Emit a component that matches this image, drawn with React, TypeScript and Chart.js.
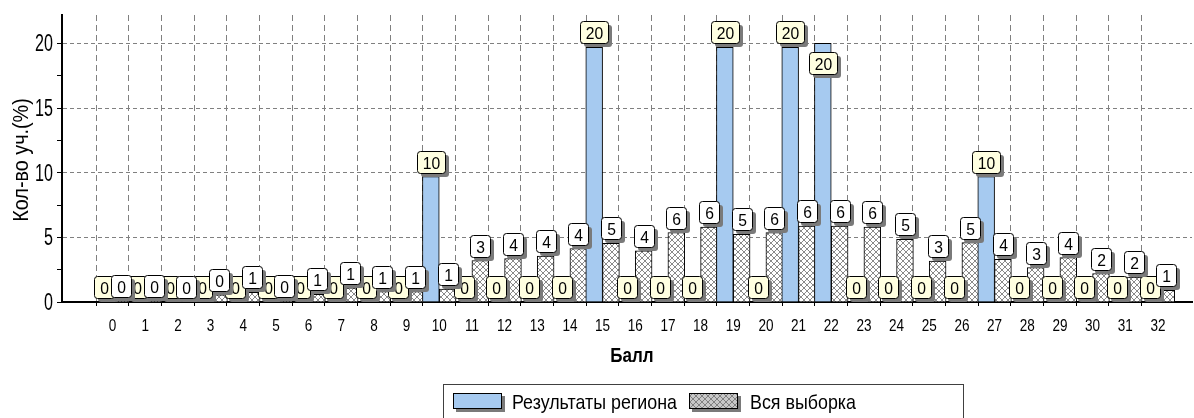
import React, { useEffect, useRef } from 'react';
import { Chart, registerables } from 'chart.js';
Chart.register(...registerables);

const scores = [0, 1, 2, 3, 4, 5, 6, 7, 8, 9, 10, 11, 12, 13, 14, 15, 16, 17, 18, 19, 20, 21, 22, 23, 24, 25, 26, 27, 28, 29, 30, 31, 32];
const regionPct = [0, 0, 0, 0, 0, 0, 0, 0, 0, 0, 9.7, 0, 0, 0, 0, 19.7, 0, 0, 0, 19.7, 0, 19.7, 20, 0, 0, 0, 0, 9.7, 0, 0, 0, 0, 0];
const samplePct = [0.05, 0.05, 0, 0.55, 0.75, 0.1, 0.6, 1.1, 0.8, 0.8, 1.0, 3.2, 3.36, 3.56, 4.13, 4.54, 3.95, 5.37, 5.79, 5.24, 5.37, 5.88, 5.88, 5.8, 4.85, 3.17, 4.59, 3.3, 2.66, 3.43, 2.19, 1.93, 0.9];
const regionMarks = [0, 0, 0, 0, 0, 0, 0, 0, 0, 0, 10, 0, 0, 0, 0, 20, 0, 0, 0, 20, 0, 20, 20, 0, 0, 0, 0, 10, 0, 0, 0, 0, 0];
const sampleMarks = [0, 0, 0, 0, 1, 0, 1, 1, 1, 1, 1, 3, 4, 4, 4, 5, 4, 6, 6, 5, 6, 6, 6, 6, 5, 3, 5, 4, 3, 4, 2, 2, 1];
const yTicks = [0, 5, 10, 15, 20];
const seriesNames = ['Результаты региона', 'Вся выборка'];
const xTitle = 'Балл';
const yTitle = 'Кол-во уч.(%)';

const BLUE = '#A6CAF0';
const BEIGE = '#FFFFE1';
const SHADOW = '#7a7a7a';
const FONT = '"Liberation Sans", Arial, sans-serif';

function makeHatch(bg: string, line: string) {
  const c = document.createElement('canvas');
  c.width = 6;
  c.height = 6;
  const g = c.getContext('2d')!;
  g.fillStyle = bg;
  g.fillRect(0, 0, 6, 6);
  g.strokeStyle = line;
  g.lineWidth = 1;
  g.beginPath();
  g.moveTo(0, 0);
  g.lineTo(6, 6);
  g.moveTo(6, 0);
  g.lineTo(0, 6);
  g.stroke();
  return g.createPattern(c, 'repeat')!;
}

function drawText(ctx: CanvasRenderingContext2D, text: string, x: number, y: number, font: string, sx: number, align: CanvasTextAlign, rot = 0) {
  ctx.save();
  ctx.translate(x, y);
  if (rot) ctx.rotate(rot);
  ctx.scale(sx, 1);
  ctx.font = font;
  ctx.textAlign = align;
  ctx.textBaseline = 'alphabetic';
  ctx.fillStyle = '#000';
  ctx.fillText(text, 0, 0);
  ctx.restore();
}

function roundRect(ctx: CanvasRenderingContext2D, x: number, y: number, w: number, h: number, r: number) {
  ctx.beginPath();
  ctx.moveTo(x + r, y);
  ctx.lineTo(x + w - r, y);
  ctx.quadraticCurveTo(x + w, y, x + w, y + r);
  ctx.lineTo(x + w, y + h - r);
  ctx.quadraticCurveTo(x + w, y + h, x + w - r, y + h);
  ctx.lineTo(x + r, y + h);
  ctx.quadraticCurveTo(x, y + h, x, y + h - r);
  ctx.lineTo(x, y + r);
  ctx.quadraticCurveTo(x, y, x + r, y);
  ctx.closePath();
}

const LABEL_FONT = `16.5px ${FONT}`;
const LABEL_SX = 0.95;

const marksPlugin = {
  id: 'marks',
  afterDatasetsDraw(chart: any) {
    const ctx: CanvasRenderingContext2D = chart.ctx;
    const sets = [
      { marks: regionMarks, fill: BEIGE },
      { marks: sampleMarks, fill: '#FFFFFF' },
    ];
    sets.forEach((s, di) => {
      const meta = chart.getDatasetMeta(di);
      let prev: any = null;
      meta.data.forEach((el: any, i: number) => {
        const txt = String(s.marks[i]);
        ctx.save();
        ctx.font = LABEL_FONT;
        const tw = ctx.measureText(txt).width * LABEL_SX;
        ctx.restore();
        const w = Math.round(tw + 11);
        const h = 22;
        const left = Math.round(el.x - w / 2);
        let top = Math.round(el.y - 4 - h);
        if (prev && prev.right + 8 > left && prev.left < left + w && prev.top < top + h && prev.bottom > top) {
          top = prev.bottom + 9;
        }
        prev = { left, top, right: left + w, bottom: top + h };
        ctx.save();
        roundRect(ctx, left + 4, top + 4, w, h, 3);
        ctx.fillStyle = SHADOW;
        ctx.fill();
        roundRect(ctx, left + 0.5, top + 0.5, w, h, 3);
        ctx.fillStyle = s.fill;
        ctx.fill();
        ctx.strokeStyle = '#000';
        ctx.lineWidth = 1;
        ctx.stroke();
        ctx.restore();
        drawText(ctx, txt, left + 0.5 + w / 2, top + h / 2 + 6.5, LABEL_FONT, LABEL_SX, 'center');
      });
    });
  },
};

const textPlugin = {
  id: 'texts',
  afterDraw(chart: any) {
    const ctx: CanvasRenderingContext2D = chart.ctx;
    const xs = chart.scales.x;
    const ys = chart.scales.y;
    yTicks.forEach((v) => {
      const py = ys.getPixelForValue(v);
      drawText(ctx, String(v), 53, py + 8, `23px ${FONT}`, 0.7, 'right');
    });
    scores.forEach((v) => {
      const px = xs.getPixelForValue(v);
      drawText(ctx, String(v), px, 331, `16.5px ${FONT}`, 0.82, 'center');
    });
    drawText(ctx, xTitle, 632, 362, `bold 20px ${FONT}`, 0.85, 'center');
    drawText(ctx, yTitle, 28, 160, `22px ${FONT}`, 0.9, 'center', -Math.PI / 2);

    // legend
    ctx.save();
    ctx.strokeStyle = '#404040';
    ctx.lineWidth = 1;
    ctx.strokeRect(443.5, 384.5, 520, 60);
    ctx.fillStyle = SHADOW;
    ctx.fillRect(456, 396, 49, 16);
    ctx.fillStyle = BLUE;
    ctx.fillRect(453, 393, 49, 16);
    ctx.strokeStyle = '#000';
    ctx.strokeRect(453.5, 393.5, 48, 15);
    ctx.fillStyle = SHADOW;
    ctx.fillRect(692, 396, 49, 16);
    ctx.fillStyle = makeHatch('#C8C8C8', '#808080');
    ctx.fillRect(689, 393, 49, 16);
    ctx.strokeStyle = '#000';
    ctx.strokeRect(689.5, 393.5, 48, 15);
    ctx.restore();
    drawText(ctx, seriesNames[0], 512, 409, `21px ${FONT}`, 0.85, 'left');
    drawText(ctx, seriesNames[1], 750, 409, `21px ${FONT}`, 0.85, 'left');
  },
};

export default function App() {
  const ref = useRef<HTMLCanvasElement>(null);
  useEffect(() => {
    const canvas = ref.current!;
    const hatch = makeHatch('#FFFFFF', '#8a8a8a');
    const chart = new Chart(canvas, {
      type: 'bar',
      data: {
        datasets: [
          {
            label: seriesNames[0],
            data: scores.map((s, i) => ({ x: s, y: regionPct[i] })),
            backgroundColor: BLUE,
            borderColor: '#000',
            borderWidth: 1,
            barThickness: 16.8,
          },
          {
            label: seriesNames[1],
            data: scores.map((s, i) => ({ x: s, y: samplePct[i] })),
            backgroundColor: hatch as any,
            borderColor: '#000',
            borderWidth: 1,
            barThickness: 16.8,
          },
        ],
      },
      options: {
        animation: false,
        responsive: false,
        devicePixelRatio: 1,
        layout: { padding: { top: 15, right: 2, left: 0, bottom: 0 } },
        plugins: { legend: { display: false }, tooltip: { enabled: false } },
        scales: {
          x: {
            type: 'linear',
            min: -1.04,
            max: 32.535,
            afterFit: (s: any) => { s.height = 116; },
            ticks: { stepSize: 1, display: false, includeBounds: false } as any,
            grid: {
              color: (c: any) => (c.tick && c.tick.value >= 0 ? '#808080' : 'rgba(0,0,0,0)'),
              tickColor: (c: any) => (c.tick && c.tick.value >= 0 ? '#000' : 'rgba(0,0,0,0)'),
              drawTicks: true,
              tickLength: 4,
              tickBorderDash: [10, 0],
              lineWidth: 1,
            } as any,
            border: { display: true, color: '#000', width: 2, dash: [6, 4] } as any,
          },
          y: {
            min: 0,
            max: 22.2,
            afterFit: (s: any) => { s.width = 62; },
            ticks: { stepSize: 2.5, display: false, includeBounds: false } as any,
            grid: {
              color: (c: any) => (c.tick && c.tick.value > 0 && c.tick.value % 5 === 0 ? '#808080' : 'rgba(0,0,0,0)'),
              tickColor: '#000',
              drawTicks: true,
              tickLength: 5,
              tickBorderDash: [10, 0],
              lineWidth: 1,
            } as any,
            border: { display: true, color: '#000', width: 2, dash: [4, 3] } as any,
          },
        },
      },
      plugins: [marksPlugin, textPlugin],
    });
    return () => chart.destroy();
  }, []);
  return (
    <div style={{ position: 'absolute', left: 0, top: 0, width: 1194, height: 418, background: '#fff' }}>
      <canvas ref={ref} width={1194} height={418} style={{ width: 1194, height: 418 }} />
    </div>
  );
}
